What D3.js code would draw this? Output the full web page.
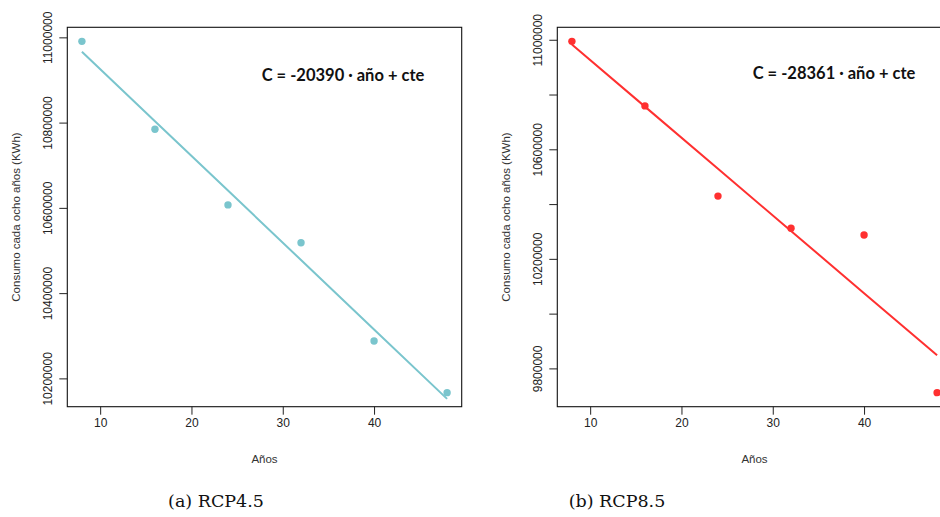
<!DOCTYPE html>
<html>
<head>
<meta charset="utf-8">
<script src="https://cdn.jsdelivr.net/npm/d3@7"></script>
<style>
  html, body { margin: 0; padding: 0; background: #fff; }
  svg { display: block; }
</style>
</head>
<body>
<svg id="chart" width="940" height="517"></svg>
<script>
// ---------- data ----------
const years = [8, 16, 24, 32, 40, 48];
const consumoRCP45 = [10990600, 10784560, 10607000, 10518130, 10287700, 10166550];
const consumoRCP85 = [10994170, 10758470, 10429140, 10311475, 10287070, 9711475];
const xTicks = [10, 20, 30, 40];
const yTicksA = [10200000, 10400000, 10600000, 10800000, 11000000];
const yLabelsA = [10200000, 10400000, 10600000, 10800000, 11000000];
const yTicksB = [9800000, 10000000, 10200000, 10400000, 10600000, 10800000, 11000000];
const yLabelsB = [9800000, 10200000, 10600000, 11000000];
const equationA = "C = -20390 · año + cte";
const equationB = "C = -28361 · año + cte";
const captions = ["(a) RCP4.5", "(b) RCP8.5"];
const xTitle = "Años";
const yTitle = "Consumo cada ocho años (KWh)";

// ---------- helpers ----------
function rRange(vals) { // R-style 4% extension of the data range
  const [lo, hi] = d3.extent(vals);
  const pad = (hi - lo) * 0.04;
  return [lo - pad, hi + pad];
}
function linFit(xs, ys) { // least squares fit of the points
  const mx = d3.mean(xs), my = d3.mean(ys);
  const sxy = d3.sum(xs, (x, i) => (x - mx) * (ys[i] - my));
  const sxx = d3.sum(xs, x => (x - mx) * (x - mx));
  const b = sxy / sxx, a = my - b * mx;
  return xs.map(x => a + b * x);
}

const svg = d3.select("#chart");

function panel(opts) {
  const { left, top, width, height, values, color, yTicks, yLabels, eq, eqX, eqY, caption, capX } = opts;
  const x = d3.scaleLinear().domain(rRange(years)).range([left, left + width]);
  const y = d3.scaleLinear().domain(rRange(values)).range([top + height, top]);
  const g = svg.append("g");

  // box
  g.append("rect").attr("x", left).attr("y", top).attr("width", width).attr("height", height)
    .attr("fill", "none").attr("stroke", "#111").attr("stroke-width", 1.1);

  // x axis ticks
  const xa = d3.axisBottom(x).tickValues(xTicks).tickSize(8).tickPadding(10).tickFormat(d3.format("d"));
  const gx = g.append("g").attr("transform", `translate(0,${top + height})`).call(xa);
  gx.select(".domain").remove();
  gx.selectAll(".tick line").attr("stroke", "#222");
  gx.selectAll(".tick text").attr("font-family", "Liberation Sans, Arial, sans-serif")
    .attr("font-size", 12).attr("fill", "#222").attr("dy", "0.2em");

  // y axis ticks
  const ya = d3.axisLeft(y).tickValues(yTicks).tickSize(8).tickFormat(d => yLabels.includes(d) ? d3.format("d")(d) : "");
  const gy = g.append("g").attr("transform", `translate(${left},0)`).call(ya);
  gy.select(".domain").remove();
  gy.selectAll(".tick line").attr("stroke", "#222");
  gy.selectAll(".tick text")
    .attr("font-family", "Liberation Sans, Arial, sans-serif").attr("font-size", 12).attr("fill", "#222")
    .attr("x", null).attr("dy", null)
    .attr("text-anchor", "middle")
    .attr("transform", "translate(-15,0) rotate(-90)");

  // axis titles
  g.append("text").attr("x", left + width / 2 - (opts.clipShift || 0)).attr("y", top + height + 56)
    .attr("text-anchor", "middle").attr("font-family", "Liberation Sans, Arial, sans-serif")
    .attr("font-size", 11.5).attr("fill", "#333").text(xTitle);
  g.append("text").attr("transform", `translate(${left - 47.5},${top + height / 2}) rotate(-90)`)
    .attr("text-anchor", "middle").attr("font-family", "Liberation Sans, Arial, sans-serif")
    .attr("font-size", 11.5).attr("fill", "#333").text(yTitle);

  // fitted line
  const fit = linFit(years, values);
  g.append("path").datum(years.map((yr, i) => [yr, fit[i]]))
    .attr("d", d3.line().x(d => x(d[0])).y(d => y(d[1])))
    .attr("fill", "none").attr("stroke", color).attr("stroke-width", 2);

  // points
  g.selectAll("circle.pt").data(years.map((yr, i) => [yr, values[i]])).join("circle")
    .attr("class", "pt").attr("cx", d => x(d[0])).attr("cy", d => y(d[1])).attr("r", 3.7)
    .attr("fill", color);

  // equation
  g.append("text").attr("x", eqX).attr("y", eqY)
    .attr("font-family", "Lato, Carlito, sans-serif").attr("font-weight", "bold")
    .attr("font-size", 16.5).attr("fill", "#111").text(eq);

  // caption
  svg.append("text").attr("x", capX).attr("y", 507).attr("text-anchor", "middle")
    .attr("font-family", "DejaVu Serif, serif").attr("font-size", 17.5).attr("fill", "#111").text(caption);
}

panel({ left: 67.3, top: 27.3, width: 394.4, height: 379.4, values: consumoRCP45, color: "#7AC5CD",
  yTicks: yTicksA, yLabels: yLabelsA, eq: equationA, eqX: 261.7, eqY: 81, caption: captions[0], capX: 216 });
panel({ left: 557.3, top: 27.3, width: 394.4, height: 379.4, values: consumoRCP85, color: "#FF3030",
  yTicks: yTicksB, yLabels: yLabelsB, eq: equationB, eqX: 752.7, eqY: 79, caption: captions[1], capX: 617,
  clipShift: 0 });
</script>
</body>
</html>
